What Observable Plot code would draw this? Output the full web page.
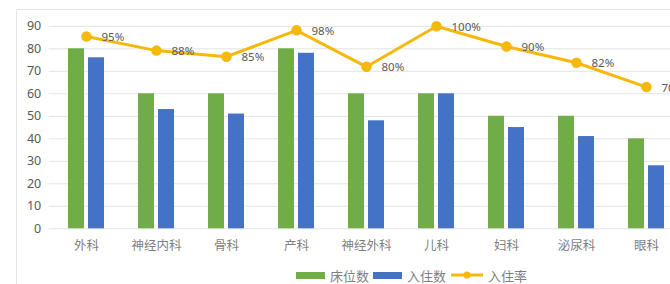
<!DOCTYPE html>
<html>
<head>
<meta charset="utf-8">
<script src="https://cdn.jsdelivr.net/npm/d3@7"></script>
<script src="https://cdn.jsdelivr.net/npm/@observablehq/plot@0.6"></script>
<style>
  html, body { margin: 0; padding: 0; background: #fff; }
  #wrap { position: relative; width: 670px; height: 284px; overflow: hidden;
          font-family: "Noto Sans", "Noto Sans CJK SC", sans-serif; }
  #frame { position: absolute; left: 16px; top: 9px; width: 800px; height: 400px;
           border-left: 1px solid #e6e6e6; border-top: 1px solid #e6e6e6; }
  #chart { position: relative; width: 700px; }
  #chart svg { display: block; overflow: visible; max-width: none !important; width: 700px; height: 262px; }
  #legend { position: absolute; left: 296px; top: 266px; height: 18px; display: flex; align-items: center;
            font-family: "Noto Sans CJK SC", sans-serif; font-size: 13px; color: #7f7f7f; white-space: nowrap; }
  .sw { display: inline-block; width: 29px; height: 7px; margin-right: 5px; }
  .item { display: flex; align-items: center; margin-right: 4px; }
</style>
</head>
<body>
<div id="wrap">
  <div id="frame"></div>
  <div id="chart"></div>
  <div id="legend"></div>
</div>
<script>
const categories = ["外科", "神经内科", "骨科", "产科", "神经外科", "儿科", "妇科", "泌尿科", "眼科"];
const beds = [80, 60, 60, 80, 60, 60, 50, 50, 40];
const occupied = [76, 53, 51, 78, 48, 60, 45, 41, 28];
const rates = [95, 88, 85, 98, 80, 100, 90, 82, 70];
const yTicks = [0, 10, 20, 30, 40, 50, 60, 70, 80, 90];
const seriesNames = ["床位数", "入住数", "入住率"];
const colors = ["#70ad47", "#4472c4", "#f5b80c"];

// secondary (hidden) axis: 0–100% spans 0–90 of the primary axis
const rateAxisMax = 100, primaryMax = 90;
const table = categories.map((c, i) => ({cat: c, beds: beds[i], occ: occupied[i], rate: rates[i]}));
const rateY = d => d.rate / rateAxisMax * primaryMax;

const chart = Plot.plot({
  width: 700,
  height: 262,
  marginLeft: 48.75,
  marginRight: 16.75,
  marginTop: 25.8,
  marginBottom: 33.7,
  style: {fontFamily: "'Noto Sans','Noto Sans CJK SC',sans-serif", fontSize: "12px", background: "transparent"},
  x: {domain: categories, paddingInner: 0.773, paddingOuter: 0.3865, axis: null, label: null},
  y: {domain: [0, primaryMax], axis: null, label: null},
  marks: [
    Plot.ruleY(yTicks, {stroke: "#e3e3e3", strokeWidth: 1}),
    Plot.barY(table, {x: "cat", y: "beds", dx: -10, fill: colors[0], inset: 0}),
    Plot.barY(table, {x: "cat", y: "occ", dx: 10, fill: colors[1], inset: 0}),
    Plot.lineY(table, {x: "cat", y: rateY, stroke: colors[2], strokeWidth: 3}),
    Plot.dot(table, {x: "cat", y: rateY, r: 4.5, fill: colors[2], stroke: colors[2]}),
    Plot.text(table, {x: "cat", y: rateY, text: d => d.rate + "%", dx: 15, dy: 1, textAnchor: "start",
                      fill: "#595959", fontSize: 11.5}),
    Plot.axisY({ticks: yTicks, tickSize: 0, tickPadding: 8, fill: "#595959", fontSize: 12.5, label: null}),
    Plot.axisX({tickSize: 0, tickPadding: 12, fill: "#7f7f7f", fontSize: 12.5, label: null,
                fontFamily: "'Noto Sans CJK SC',sans-serif"})
  ]
});
document.getElementById("chart").appendChild(chart);

// legend
const legend = document.getElementById("legend");
seriesNames.forEach((name, i) => {
  const item = document.createElement("div");
  item.className = "item";
  if (i < 2) {
    const sw = document.createElement("span");
    sw.className = "sw";
    sw.style.background = colors[i];
    item.appendChild(sw);
  } else {
    const ns = "http://www.w3.org/2000/svg";
    const s = document.createElementNS(ns, "svg");
    s.setAttribute("width", 34); s.setAttribute("height", 10);
    s.style.marginRight = "4px";
    const l = document.createElementNS(ns, "line");
    l.setAttribute("x1", 1); l.setAttribute("x2", 33); l.setAttribute("y1", 5); l.setAttribute("y2", 5);
    l.setAttribute("stroke", colors[i]); l.setAttribute("stroke-width", 3);
    const c = document.createElementNS(ns, "circle");
    c.setAttribute("cx", 17); c.setAttribute("cy", 5); c.setAttribute("r", 3.5);
    c.setAttribute("fill", colors[i]);
    s.appendChild(l); s.appendChild(c);
    item.appendChild(s);
  }
  const t = document.createElement("span");
  t.textContent = name;
  item.appendChild(t);
  legend.appendChild(item);
});
</script>
</body>
</html>
